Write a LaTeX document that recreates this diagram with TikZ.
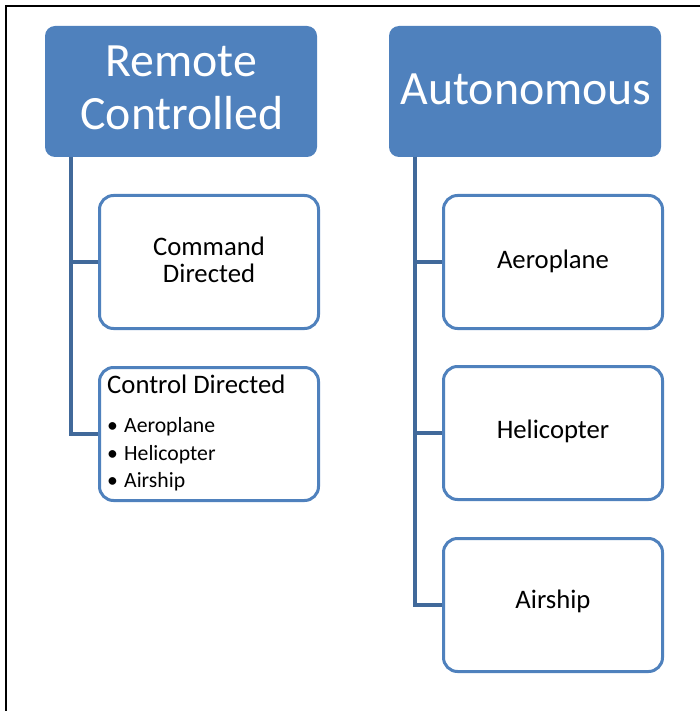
\documentclass[tikz,border=0pt]{standalone}
\usepackage{fontspec}
\setmainfont{Carlito}
\definecolor{hdr}{HTML}{4F81BD}
\definecolor{connc}{HTML}{41699A}
\begin{document}
\begin{tikzpicture}[x=1pt,y=-1pt,
  hdrbox/.style={rectangle, rounded corners=10pt, fill=hdr, inner sep=0pt, outer sep=0pt, anchor=north west, minimum width=272pt, minimum height=131pt},
  childbox/.style={rectangle, rounded corners=14pt, draw=hdr, line width=3pt, fill=white, inner sep=0pt, outer sep=0pt, minimum width=219pt, minimum height=133pt, anchor=north west},
  connline/.style={draw=connc, line width=4pt},
  hdrtext/.style={text=white, font=\fontsize{47.8}{53}\selectfont, anchor=base, inner sep=0pt},
  childtext/.style={text=black, font=\fontsize{26.7}{30}\selectfont, anchor=base, inner sep=0pt},
  bullettext/.style={text=black, font=\fontsize{21.7}{25}\selectfont, anchor=base west, inner sep=0pt}
]
\useasboundingbox (0,0) rectangle (700,711);
\draw[line width=2pt] (6,711) -- (6,6) -- (700,6);

% headers
\node[hdrbox] (rc) at (45,26) {};
\node[hdrbox] (au) at (389,26) {};

% child boxes
\node[childbox] (cmd) at (99.5,195.5) {};
\node[childbox] (ctl) at (99.5,367.5) {};
\node[childbox] (aero) at (443.5,195.5) {};
\node[childbox] (heli) at (443.5,366.5) {};
\node[childbox] (air) at (443.5,538.5) {};

% connectors
\draw[connline] ([xshift=26pt]rc.south west) |- ([xshift=-1.5pt]cmd.west);
\draw[connline] ([xshift=26pt]rc.south west) |- ([xshift=-1.5pt]ctl.west);
\draw[connline] ([xshift=26pt]au.south west) |- ([xshift=-1.5pt]aero.west);
\draw[connline] ([xshift=26pt]au.south west) |- ([xshift=-1.5pt]heli.west);
\draw[connline] ([xshift=26pt]au.south west) |- ([xshift=-1.5pt]air.west);

% header texts
\node[hdrtext] (rct1) at (181,77) {Remote};
\node[hdrtext] (rct2) at (182,130) {Controlled};
\node[hdrtext] (aut) at (526,105) {Autonomous};

% child texts
\node[childtext] (cmdt1) at (209,255) {Command};
\node[childtext] (cmdt2) at (209,282) {Directed};
\node[childtext] (aerot) at (553,268) {Aeroplane};
\node[childtext] (helit) at (553,438) {Helicopter};
\node[childtext] (airt) at (553,608) {Airship};
\node[childtext, anchor=base west] (ctlt) at (107,393) {Control Directed};

% bullets
\node[bullettext] (b1) at (107,432) {\textbullet};
\node[bullettext] (b1t) at (124,432) {Aeroplane};
\node[bullettext] (b2) at (107,460) {\textbullet};
\node[bullettext] (b2t) at (124,460) {Helicopter};
\node[bullettext] (b3) at (107,487) {\textbullet};
\node[bullettext] (b3t) at (124,487) {Airship};
\end{tikzpicture}
\end{document}
